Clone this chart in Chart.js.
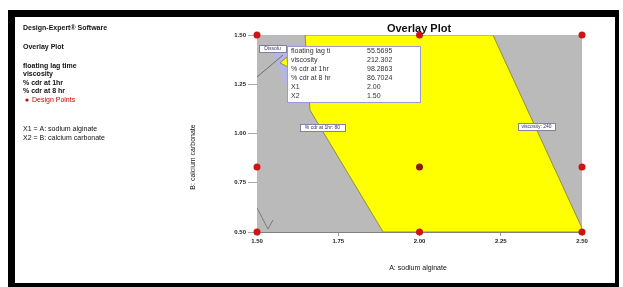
<!DOCTYPE html>
<html>
<head>
<meta charset="utf-8">
<script src="https://cdn.jsdelivr.net/npm/chart.js@4.4.1/dist/chart.umd.min.js"></script>
<style>
  html, body { margin: 0; padding: 0; background: #fff; }
  #wrap { width: 623px; height: 287px; }
</style>
</head>
<body>
<div id="wrap"><canvas id="overlayChart" width="623" height="287"></canvas></div>
<script>
// axis ticks
const xTicks = [1.5, 1.75, 2.0, 2.25, 2.5];
const yTicks = [0.5, 0.75, 1.0, 1.25, 1.5];

// whole design space (gray, out of spec)
const spaceX = [1.5, 2.5, 2.5, 1.5, 1.5];
const spaceY = [0.5, 0.5, 1.5, 1.5, 0.5];

// overlay sweet spot (yellow)
const sweetX = [1.648, 2.226, 2.5, 2.5, 1.888, 1.663, 1.648];
const sweetY = [1.5, 1.5, 0.52, 0.5, 0.5, 1.119, 1.5];

// small pocket near top left corner
const pocketX = [1.571, 1.592, 1.595, 1.571];
const pocketY = [1.358, 1.388, 1.338, 1.358];
const bandX = [1.546, 1.592, 1.592, 1.571, 1.546];
const bandY = [1.414, 1.439, 1.231, 1.322, 1.414];

// contour fragments
const contourAX = [1.5, 1.58];
const contourAY = [1.287, 1.398];
const contourBX = [1.5, 1.534, 1.549];
const contourBY = [0.622, 0.515, 0.561];

// design points
const designX = [1.5, 2.0, 2.5, 1.5, 2.0, 2.5, 1.5, 2.0, 2.5];
const designY = [1.5, 1.5, 1.5, 0.83, 0.83, 0.83, 0.5, 0.5, 0.5];

// flag box
const flagLabels = ['floating lag ti', 'viscosity', '% cdr at 1hr', '% cdr at 8 hr', 'X1', 'X2'];
const flagValues = ['55.5695', '212.302', '98.2863', '86.7024', '2.00', '1.50'];

// side legend
const sideLines = ['floating lag time', 'viscosity', '% cdr at 1hr', '% cdr at 8 hr'];

function pts(xs, ys) {
    return xs.map((x, i) => ({ x: x, y: ys[i] }));
}

const FONT = '"Liberation Sans", Arial, sans-serif';

const decor = {
    id: 'decor',
    beforeDraw(chart) {
        const ctx = chart.ctx;
        ctx.save();
        ctx.fillStyle = '#ffffff';
        ctx.fillRect(0, 0, chart.width, chart.height);
        ctx.restore();
    },
    afterDraw(chart) {
        const ctx = chart.ctx;
        const xs = chart.scales.x, ys = chart.scales.y;
        ctx.save();

        // frame
        ctx.fillStyle = '#000';
        ctx.fillRect(8, 10, 611, 7);
        ctx.fillRect(8, 283, 611, 4);
        ctx.fillRect(8, 10, 7, 277);
        ctx.fillRect(615, 10, 4, 277);

        // title
        ctx.fillStyle = '#111';
        ctx.font = 'bold 11px ' + FONT;
        ctx.textAlign = 'center';
        ctx.textBaseline = 'middle';
        ctx.fillText('Overlay Plot', 419, 29);

        // left legend block
        ctx.textAlign = 'left';
        ctx.font = 'bold 7px ' + FONT;
        ctx.fillText('Design-Expert\u00AE Software', 23, 28);
        ctx.fillText('Overlay Plot', 23, 47);
        sideLines.forEach((t, i) => ctx.fillText(t, 23, 66 + i * 8.5));
        ctx.fillStyle = '#cc0000';
        ctx.beginPath();
        ctx.arc(27, 100, 1.6, 0, Math.PI * 2);
        ctx.fill();
        ctx.font = '7px ' + FONT;
        ctx.fillText('Design Points', 32, 100);
        ctx.fillStyle = '#111';
        ctx.fillText('X1 = A: sodium alginate', 23, 129);
        ctx.fillText('X2 = B: calcium carbonate', 23, 138);

        // axis titles
        ctx.font = '7px ' + FONT;
        ctx.textAlign = 'center';
        ctx.fillText('A: sodium alginate', 418, 268);
        ctx.save();
        ctx.translate(193, 157);
        ctx.rotate(-Math.PI / 2);
        ctx.fillText('B: calcium carbonate', 0, 0);
        ctx.restore();

        // contour labels
        function tag(text, x, y, w) {
            ctx.fillStyle = '#ffffff';
            ctx.fillRect(x, y, w, 7);
            ctx.strokeStyle = '#8080a0';
            ctx.lineWidth = 1;
            ctx.strokeRect(x + 0.5, y + 0.5, w, 7);
            ctx.fillStyle = '#303060';
            ctx.font = '5px ' + FONT;
            ctx.textAlign = 'center';
            ctx.fillText(text, x + w / 2, y + 4);
        }
        tag('% cdr at 1hr: 80', 300, 124, 45);
        tag('viscosity: 240', 518, 123, 37);

        // flag box
        const bx = 287, by = 46, bw = 133, bh = 56;
        ctx.fillStyle = '#ffffff';
        ctx.fillRect(bx, by, bw, bh);
        ctx.strokeStyle = '#9a9ad0';
        ctx.strokeRect(bx + 0.5, by + 0.5, bw, bh);
        ctx.font = '7px ' + FONT;
        ctx.textAlign = 'left';
        ctx.fillStyle = '#333';
        flagLabels.forEach((t, i) => {
            ctx.fillText(t, bx + 4, by + 5 + i * 9);
            ctx.fillText(flagValues[i], bx + 80, by + 5 + i * 9);
        });
        tag('Dissolu', 259, 45, 27);

        ctx.restore();
    }
};

new Chart(document.getElementById('overlayChart').getContext('2d'), {
    type: 'line',
    data: {
        datasets: [
            {
                data: pts(spaceX, spaceY),
                borderColor: 'rgba(0,0,0,0)',
                backgroundColor: '#bababa',
                fill: 'shape',
                pointRadius: 0,
                order: 10
            },
            {
                data: pts(sweetX, sweetY),
                borderColor: '#8f8f45',
                borderWidth: 1,
                backgroundColor: '#ffff00',
                fill: 'shape',
                pointRadius: 0,
                order: 9
            },
            {
                data: pts(bandX, bandY),
                borderColor: 'rgba(0,0,0,0)',
                backgroundColor: '#b4b4e6',
                fill: 'shape',
                pointRadius: 0,
                order: 8
            },
            {
                data: pts(pocketX, pocketY),
                borderColor: '#8f8f45',
                borderWidth: 1,
                backgroundColor: '#ffff00',
                fill: 'shape',
                pointRadius: 0,
                order: 7
            },
            {
                data: pts(contourAX, contourAY),
                borderColor: '#6e6e6e',
                borderWidth: 1,
                fill: false,
                pointRadius: 0,
                order: 5
            },
            {
                data: pts(contourBX, contourBY),
                borderColor: '#7a7a7a',
                borderWidth: 1,
                fill: false,
                pointRadius: 0,
                order: 5
            },
            {
                data: pts(designX, designY),
                showLine: false,
                pointRadius: 3.5,
                pointBackgroundColor: designX.map((x, i) => (i === 4 ? '#8a1a10' : '#cc1515')),
                pointBorderColor: designX.map((x, i) => (i === 4 ? '#8a1a10' : '#cc1515')),
                pointBorderWidth: 0,
                order: 0,
                clip: false
            }
        ]
    },
    options: {
        responsive: false,
        animation: false,
        events: [],
        layout: {
            autoPadding: false,
            padding: { left: 200, right: 41, top: 35, bottom: 0 }
        },
        elements: { line: { tension: 0 } },
        plugins: {
            legend: { display: false },
            title: { display: false },
            tooltip: { enabled: false }
        },
        scales: {
            x: {
                type: 'linear',
                min: 1.5,
                max: 2.5,
                afterFit: s => { s.height = 55; },
                afterBuildTicks: s => { s.ticks = xTicks.map(v => ({ value: v })); },
                border: { display: true, color: '#808080', width: 1 },
                grid: { drawOnChartArea: false, tickLength: 4, color: '#9a9a9a' },
                ticks: {
                    padding: 2,
                    color: '#222',
                    font: { size: 6, weight: 'bold', family: FONT },
                    maxRotation: 0,
                    callback: v => v.toFixed(2)
                }
            },
            y: {
                type: 'linear',
                min: 0.5,
                max: 1.5,
                afterFit: s => { s.width = 57; },
                afterBuildTicks: s => { s.ticks = yTicks.map(v => ({ value: v })); },
                border: { display: true, color: '#808080', width: 1 },
                grid: { drawOnChartArea: false, tickLength: 9, color: '#aaaaaa' },
                ticks: {
                    padding: 2,
                    color: '#222',
                    font: { size: 6, weight: 'bold', family: FONT },
                    callback: v => v.toFixed(2)
                }
            }
        }
    },
    plugins: [decor]
});
</script>
</body>
</html>
